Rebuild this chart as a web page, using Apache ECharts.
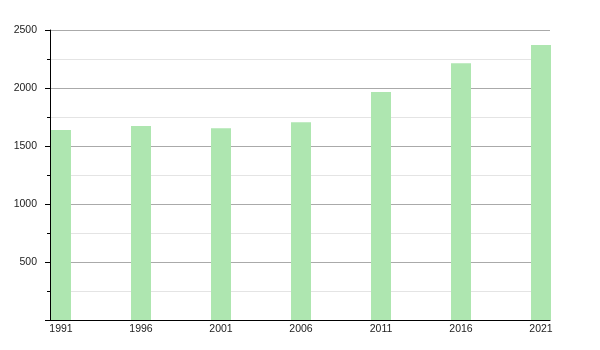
<!DOCTYPE html>
<html>
<head>
<meta charset="utf-8">
<script src="https://cdn.jsdelivr.net/npm/echarts@6/dist/echarts.min.js"></script>
<style>html,body{margin:0;padding:0;background:#fff}#c{width:600px;height:350px}</style>
</head>
<body>
<div id="c"></div>
<script>
const years = [1991, 1996, 2001, 2006, 2011, 2016, 2021];
const population = [1638, 1672, 1652, 1704, 1966, 2213, 2371];
const yTicks = [500, 1000, 1500, 2000, 2500];

const chart = echarts.init(document.getElementById('c'), null, {renderer: 'canvas'});
chart.setOption({
  animation: false,
  backgroundColor: '#ffffff',
  grid: {left: 50, right: 50, top: 30, bottom: 30, containLabel: false},
  xAxis: {
    type: 'value',
    min: 1990.3125,
    max: 2021.5625,
    axisLine: {show: true, onZero: false, lineStyle: {color: '#000', width: 1}},
    axisTick: {show: false},
    splitLine: {show: false},
    axisLabel: {
      customValues: years,
      color: '#222', fontSize: 10.5, fontFamily: 'Liberation Sans', margin: 4,
      formatter: v => String(v)
    }
  },
  yAxis: {
    type: 'value',
    min: 0, max: 2500, interval: 500,
    axisLine: {show: true, lineStyle: {color: '#000', width: 1}},
    axisTick: {show: true, length: 5, inside: false, lineStyle: {color: '#000'}},
    minorTick: {show: true, splitNumber: 2, length: 3, lineStyle: {color: '#000'}},
    splitLine: {show: true, lineStyle: {color: '#aaaaaa', width: 1}},
    minorSplitLine: {show: true, lineStyle: {color: '#e4e4e4', width: 1}},
    axisLabel: {
      color: '#222', fontSize: 10.5, fontFamily: 'Liberation Sans', margin: 13,
      formatter: v => (v === 0 ? '' : String(v))
    }
  },
  series: [{
    type: 'bar',
    data: years.map((y, i) => [y, population[i]]),
    barWidth: 20,
    itemStyle: {color: '#aee6b0'},
    z: 3
  }]
});
</script>
</body>
</html>
